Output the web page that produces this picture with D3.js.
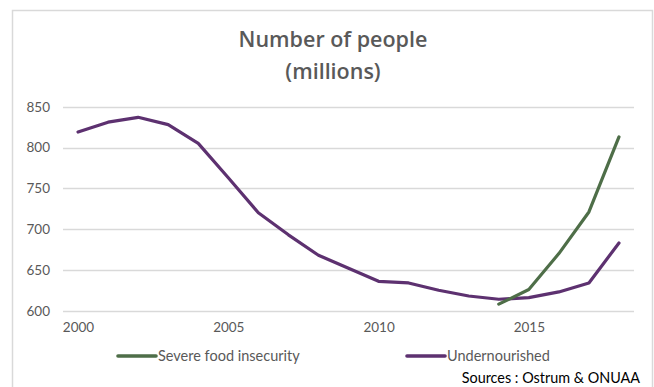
<!DOCTYPE html>
<html>
<head>
<meta charset="utf-8">
<script src="https://cdn.jsdelivr.net/npm/d3@7"></script>
<style>
  html, body { margin: 0; padding: 0; background: #fff; }
  svg { display: block; font-family: Lato, "Open Sans", sans-serif; }
</style>
</head>
<body>
<svg id="chart" width="654" height="387"></svg>
<script>
// Years on the category axis
const years = [2000, 2001, 2002, 2003, 2004, 2005, 2006, 2007, 2008, 2009,
               2010, 2011, 2012, 2013, 2014, 2015, 2016, 2017, 2018];
// Undernourished people, millions
const undernourished = [819, 831, 837, 828, 805, 763, 720, 693, 668, 652,
                        636, 634, 625, 618, 614, 616, 623, 634, 683];
// Severe food insecurity, millions (series starts in 2014)
const severeYears = [2014, 2015, 2016, 2017, 2018];
const severe = [608, 626, 670, 721, 813];
// Axis ticks
const yTicks = [600, 650, 700, 750, 800, 850];
const xTickLabels = [2000, 2005, 2010, 2015];

const seriesNames = ["Severe food insecurity", "Undernourished"];
const colors = { severe: "#4e6e48", under: "#5d3170" };

const svg = d3.select("#chart");

// Chart frame
svg.append("path")
  .attr("d", "M12.5,387 V10.5 H652.5 V387")
  .attr("fill", "none")
  .attr("stroke", "#d9d9d9")
  .attr("stroke-width", 1.5);

// Title
const title = svg.append("text")
  .attr("text-anchor", "middle")
  .attr("fill", "#595959")
  .attr("font-family", "'Open Sans', sans-serif")
  .attr("font-size", 21.5)
  .attr("font-weight", 600);
title.append("tspan").attr("x", 333).attr("y", 47).text("Number of people");
title.append("tspan").attr("x", 333).attr("y", 79).text("(millions)");

const plot = { left: 63, right: 634, top: 106.7, bottom: 310.7 };

const x = d3.scalePoint()
  .domain(years)
  .range([plot.left, plot.right])
  .padding(0.5);

const y = d3.scaleLinear()
  .domain([600, 850])
  .range([plot.bottom, plot.top]);

// Horizontal gridlines
svg.append("g")
  .selectAll("line")
  .data(yTicks)
  .join("line")
  .attr("x1", plot.left)
  .attr("x2", plot.right)
  .attr("y1", d => Math.round(y(d)) + 0.5)
  .attr("y2", d => Math.round(y(d)) + 0.5)
  .attr("stroke", "#d9d9d9")
  .attr("stroke-width", 1.3);

// Y axis labels
const yAxis = svg.append("g")
  .attr("transform", `translate(${plot.left - 13},0)`)
  .call(d3.axisLeft(y).tickValues(yTicks).tickSize(0).tickPadding(0));
yAxis.select(".domain").remove();
yAxis.selectAll("text")
  .attr("fill", "#595959")
  .attr("font-size", 13.5)
  .attr("font-family", "Lato, sans-serif");

// X axis labels
const xAxis = svg.append("g")
  .attr("transform", `translate(0,${plot.bottom + 12})`)
  .call(d3.axisBottom(x).tickValues(xTickLabels).tickSize(0).tickPadding(0));
xAxis.select(".domain").remove();
xAxis.selectAll("text")
  .attr("fill", "#595959")
  .attr("font-size", 13.5)
  .attr("font-family", "Lato, sans-serif");

const line = d3.line()
  .x(d => x(d[0]))
  .y(d => y(d[1]));

svg.append("path")
  .datum(years.map((yr, i) => [yr, undernourished[i]]))
  .attr("d", line)
  .attr("fill", "none")
  .attr("stroke", colors.under)
  .attr("stroke-width", 3.2)
  .attr("stroke-linejoin", "round")
  .attr("stroke-linecap", "round");

svg.append("path")
  .datum(severeYears.map((yr, i) => [yr, severe[i]]))
  .attr("d", line)
  .attr("fill", "none")
  .attr("stroke", colors.severe)
  .attr("stroke-width", 3.2)
  .attr("stroke-linejoin", "round")
  .attr("stroke-linecap", "round");

// Legend
const legendItems = [
  { name: seriesNames[0], color: colors.severe, x: 118 },
  { name: seriesNames[1], color: colors.under, x: 407 }
];
const lg = svg.append("g").selectAll("g")
  .data(legendItems)
  .join("g")
  .attr("transform", d => `translate(${d.x},356)`);
lg.append("line")
  .attr("x1", 0).attr("x2", 38)
  .attr("stroke", d => d.color)
  .attr("stroke-width", 3.6)
  .attr("stroke-linecap", "round");
lg.append("text")
  .attr("x", 40)
  .attr("dy", "0.35em")
  .attr("fill", "#595959")
  .attr("font-size", 14.5)
  .text(d => d.name);

// Source note
svg.append("text")
  .attr("x", 640)
  .attr("y", 383)
  .attr("text-anchor", "end")
  .attr("fill", "#000")
  .attr("font-size", 14.4)
  .text("Sources : Ostrum & ONUAA");
</script>
</body>
</html>
